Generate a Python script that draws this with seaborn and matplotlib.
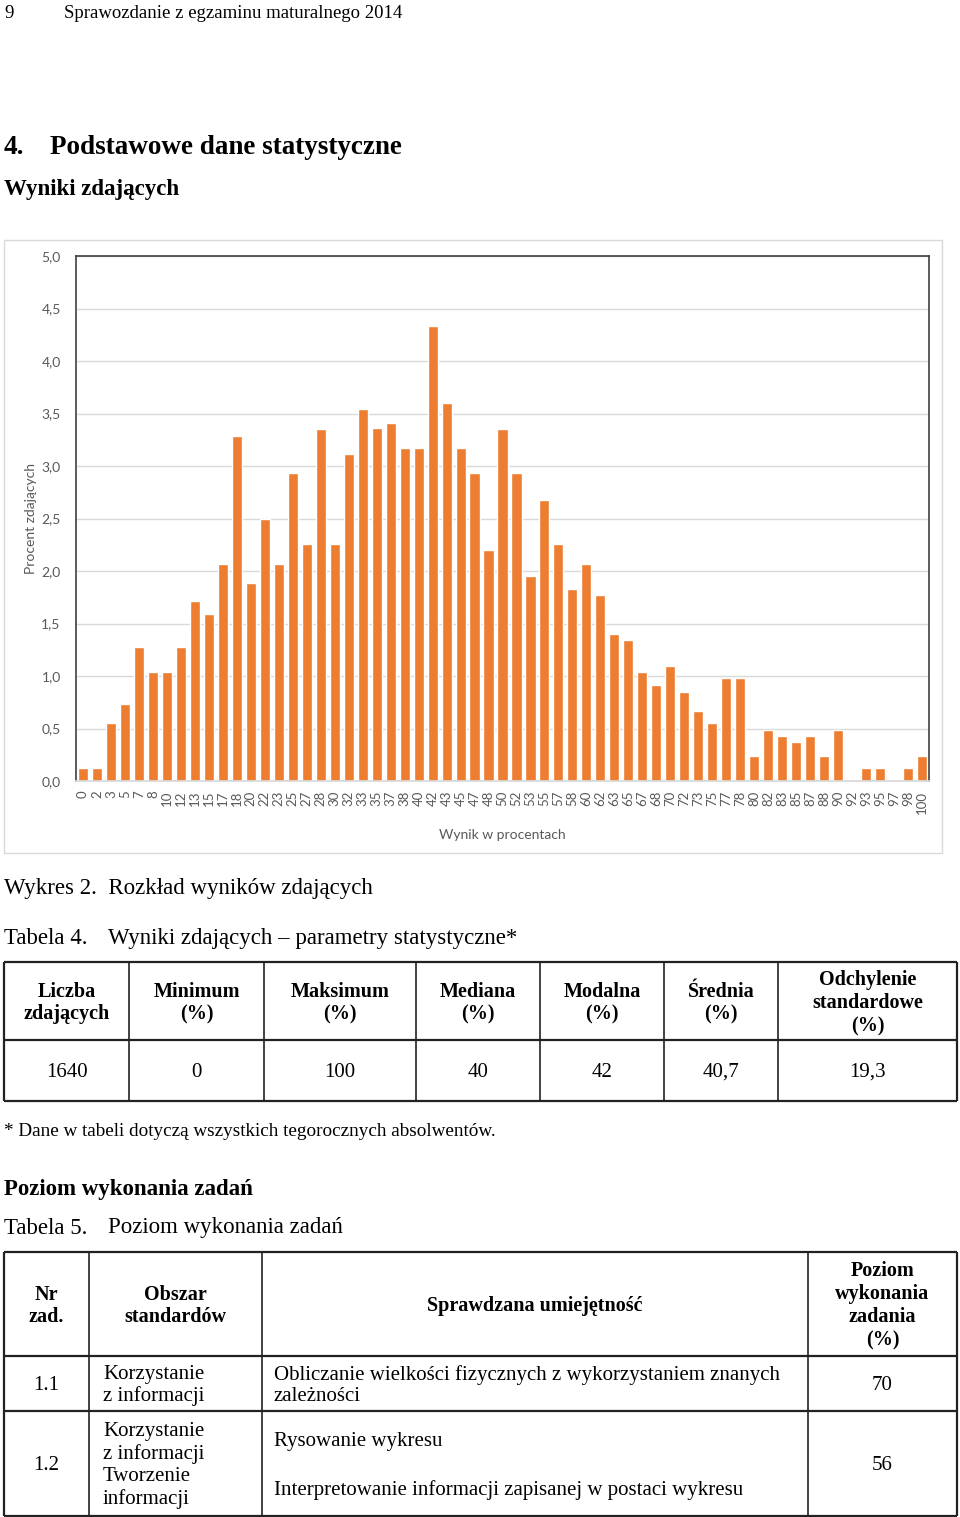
import matplotlib
matplotlib.use("Agg")
import matplotlib.pyplot as plt
from matplotlib.patches import Rectangle
import numpy as np
import pandas as pd
import seaborn as sns

# --- chart data (Wykres 2) ---
scores = ["0", "2", "3", "5", "7", "8", "10", "12", "13", "15", "17", "18",
          "20", "22", "23", "25", "27", "28", "30", "32", "33", "35", "37", "38",
          "40", "42", "43", "45", "47", "48", "50", "52", "53", "55", "57", "58",
          "60", "62", "63", "65", "67", "68", "70", "72", "73", "75", "77", "78",
          "80", "82", "83", "85", "87", "88", "90", "92", "93", "95", "97", "98",
          "100"]
percent = [0.12, 0.12, 0.55, 0.73, 1.28, 1.04, 1.04, 1.28, 1.71, 1.59, 2.07, 3.29,
           1.89, 2.50, 2.07, 2.93, 2.26, 3.35, 2.26, 3.11, 3.54, 3.36, 3.41, 3.17,
           3.17, 4.33, 3.60, 3.17, 2.93, 2.20, 3.35, 2.93, 1.95, 2.68, 2.26, 1.83,
           2.07, 1.77, 1.40, 1.34, 1.04, 0.91, 1.10, 0.85, 0.67, 0.55, 0.98, 0.98,
           0.24, 0.49, 0.43, 0.37, 0.43, 0.24, 0.49, 0.0, 0.12, 0.12, 0.0, 0.12,
           0.24]
y_ticks = [0, 0.5, 1.0, 1.5, 2.0, 2.5, 3.0, 3.5, 4.0, 4.5, 5.0]

# --- Tabela 4 ---
t4_header = ["Liczba\nzdających", "Minimum\n(%)", "Maksimum\n(%)", "Mediana\n(%)",
             "Modalna\n(%)", "Średnia\n(%)", "Odchylenie\nstandardowe\n(%)"]
t4_values = ["1640", "0", "100", "40", "42", "40,7", "19,3"]

# --- Tabela 5 ---
t5_header = ["Nr\nzad.", "Obszar\nstandardów", "Sprawdzana umiejętność",
             "Poziom\nwykonania\nzadania\n(%)"]
t5_tasks = ["1.1", "1.2"]
t5_areas = ["Korzystanie\nz informacji", "Korzystanie\nz informacji\nTworzenie\ninformacji"]
t5_skills = [["Obliczanie wielkości fizycznych z wykorzystaniem znanych\nzależności"],
             ["Rysowanie wykresu", "Interpretowanie informacji zapisanej w postaci wykresu"]]
t5_scores = ["70", "56"]

W, H = 960, 1517
SERIF = "Liberation Serif"
ORANGE = "#ED7D31"
GREY = "#595959"

sns.set_theme(style="white")
plt.rcParams["font.family"] = ["Lato", "DejaVu Sans"]

fig = plt.figure(figsize=(W / 100, H / 100), dpi=100)

# page overlay in pixel coordinates
page = fig.add_axes([0, 0, 1, 1])
page.set_xlim(0, W)
page.set_ylim(H, 0)
page.axis("off")


def txt(x, y, s, size=15, bold=False, ha="left", va="center", **kw):
    page.text(x, y + 2, s, fontsize=size, fontweight="bold" if bold else "normal",
              family=SERIF, ha=ha, va=va, color="black", linespacing=1.2, **kw)


def hline(x0, x1, y, lw=1.2):
    page.plot([x0, x1], [y, y], color="#222222", lw=lw, solid_capstyle="butt")


def vline(x, y0, y1, lw=1.2):
    page.plot([x, x], [y0, y1], color="#222222", lw=lw, solid_capstyle="butt")


# header texts
txt(4, 11, "9", size=13.5)
txt(64, 11, "Sprawozdanie z egzaminu maturalnego 2014", size=13.5)
txt(4, 145, "4.", size=19.5, bold=True)
txt(50, 145, "Podstawowe dane statystyczne", size=19.5, bold=True)
txt(4, 187, "Wyniki zdających", size=16.5, bold=True)

# chart frame
page.add_patch(Rectangle((4, 240), 938, 613, fill=False, edgecolor="#D9D9D9", lw=1))

# chart
df = pd.DataFrame({"wynik": scores, "procent": percent})
ax = fig.add_axes([76 / W, 1 - 781 / H, 853 / W, 525 / H])
sns.barplot(data=df, x="wynik", y="procent", order=scores, color=ORANGE,
            saturation=1, width=0.72, ax=ax)
ax.set_xlim(-0.5, len(scores) - 0.5)
ax.set_ylim(0, 5)
ax.set_yticks(y_ticks)
ax.set_yticklabels([f"{v:.1f}".replace(".", ",") for v in y_ticks])
ax.yaxis.grid(True, color="#D9D9D9", lw=1)
ax.set_axisbelow(True)
ax.tick_params(axis="y", length=0, pad=11, labelsize=10, labelcolor=GREY)
ax.tick_params(axis="x", length=0, pad=7, labelsize=9.5, labelcolor=GREY, rotation=90)
for side in ["left", "top", "right"]:
    ax.spines[side].set_color("#404040")
    ax.spines[side].set_linewidth(1.2)
ax.spines["bottom"].set_color("#D9D9D9")
ax.set_ylabel("Procent zdających", fontsize=10, color=GREY)
ax.yaxis.set_label_coords(-0.046, 0.5)
ax.set_xlabel("Wynik w procentach", fontsize=10, color=GREY)
ax.xaxis.set_label_coords(0.5, -0.092)

txt(4, 886, "Wykres 2.  Rozkład wyników zdających", size=16.5)
txt(4, 936, "Tabela 4.", size=16.5)
txt(108, 936, "Wyniki zdających – parametry statystyczne*", size=16.5)

# Tabela 4
t4_cols = [4, 129, 264, 416, 540, 664, 778, 957]
t4_top, t4_mid, t4_bot = 962, 1040, 1101
hline(4, 957, t4_top, 1.6)
hline(4, 957, t4_mid, 1.6)
hline(4, 957, t4_bot, 1.6)
for x in t4_cols:
    vline(x, t4_top, t4_bot, 1.6 if x in (4, 957) else 1.2)
for i, (h, v) in enumerate(zip(t4_header, t4_values)):
    cx = (t4_cols[i] + t4_cols[i + 1]) / 2
    txt(cx, (t4_top + t4_mid) / 2, h, size=14.5, bold=True, ha="center")
    txt(cx, (t4_mid + t4_bot) / 2, v, size=15, ha="center")

txt(4, 1129, "* Dane w tabeli dotyczą wszystkich tegorocznych absolwentów.", size=13.8)
txt(4, 1187, "Poziom wykonania zadań", size=16.5, bold=True)
txt(4, 1226, "Tabela 5.", size=16.5)
txt(108, 1226, "Poziom wykonania zadań", size=16.5)

# Tabela 5
t5_cols = [4, 89, 262, 808, 957]
t5_rows = [1252, 1356, 1411, 1516]
for y in t5_rows:
    hline(4, 957, y, 1.6)
for x in t5_cols:
    vline(x, t5_rows[0], t5_rows[-1], 1.6 if x in (4, 957) else 1.2)
for i, h in enumerate(t5_header):
    cx = (t5_cols[i] + t5_cols[i + 1]) / 2
    txt(cx, (t5_rows[0] + t5_rows[1]) / 2, h, size=14.5, bold=True, ha="center")
for r in range(len(t5_tasks)):
    cy = (t5_rows[r + 1] + t5_rows[r + 2]) / 2
    txt((t5_cols[0] + t5_cols[1]) / 2, cy, t5_tasks[r], size=15, ha="center")
    txt(103, cy, t5_areas[r], size=15)
    txt((t5_cols[3] + t5_cols[4]) / 2, cy, t5_scores[r], size=15, ha="center")
    skills = t5_skills[r]
    if len(skills) == 1:
        txt(274, cy, skills[0], size=15)
    else:
        txt(274, cy - 24, skills[0], size=15)
        txt(274, cy + 25, skills[1], size=15)

fig.savefig("out.png", dpi=100)
